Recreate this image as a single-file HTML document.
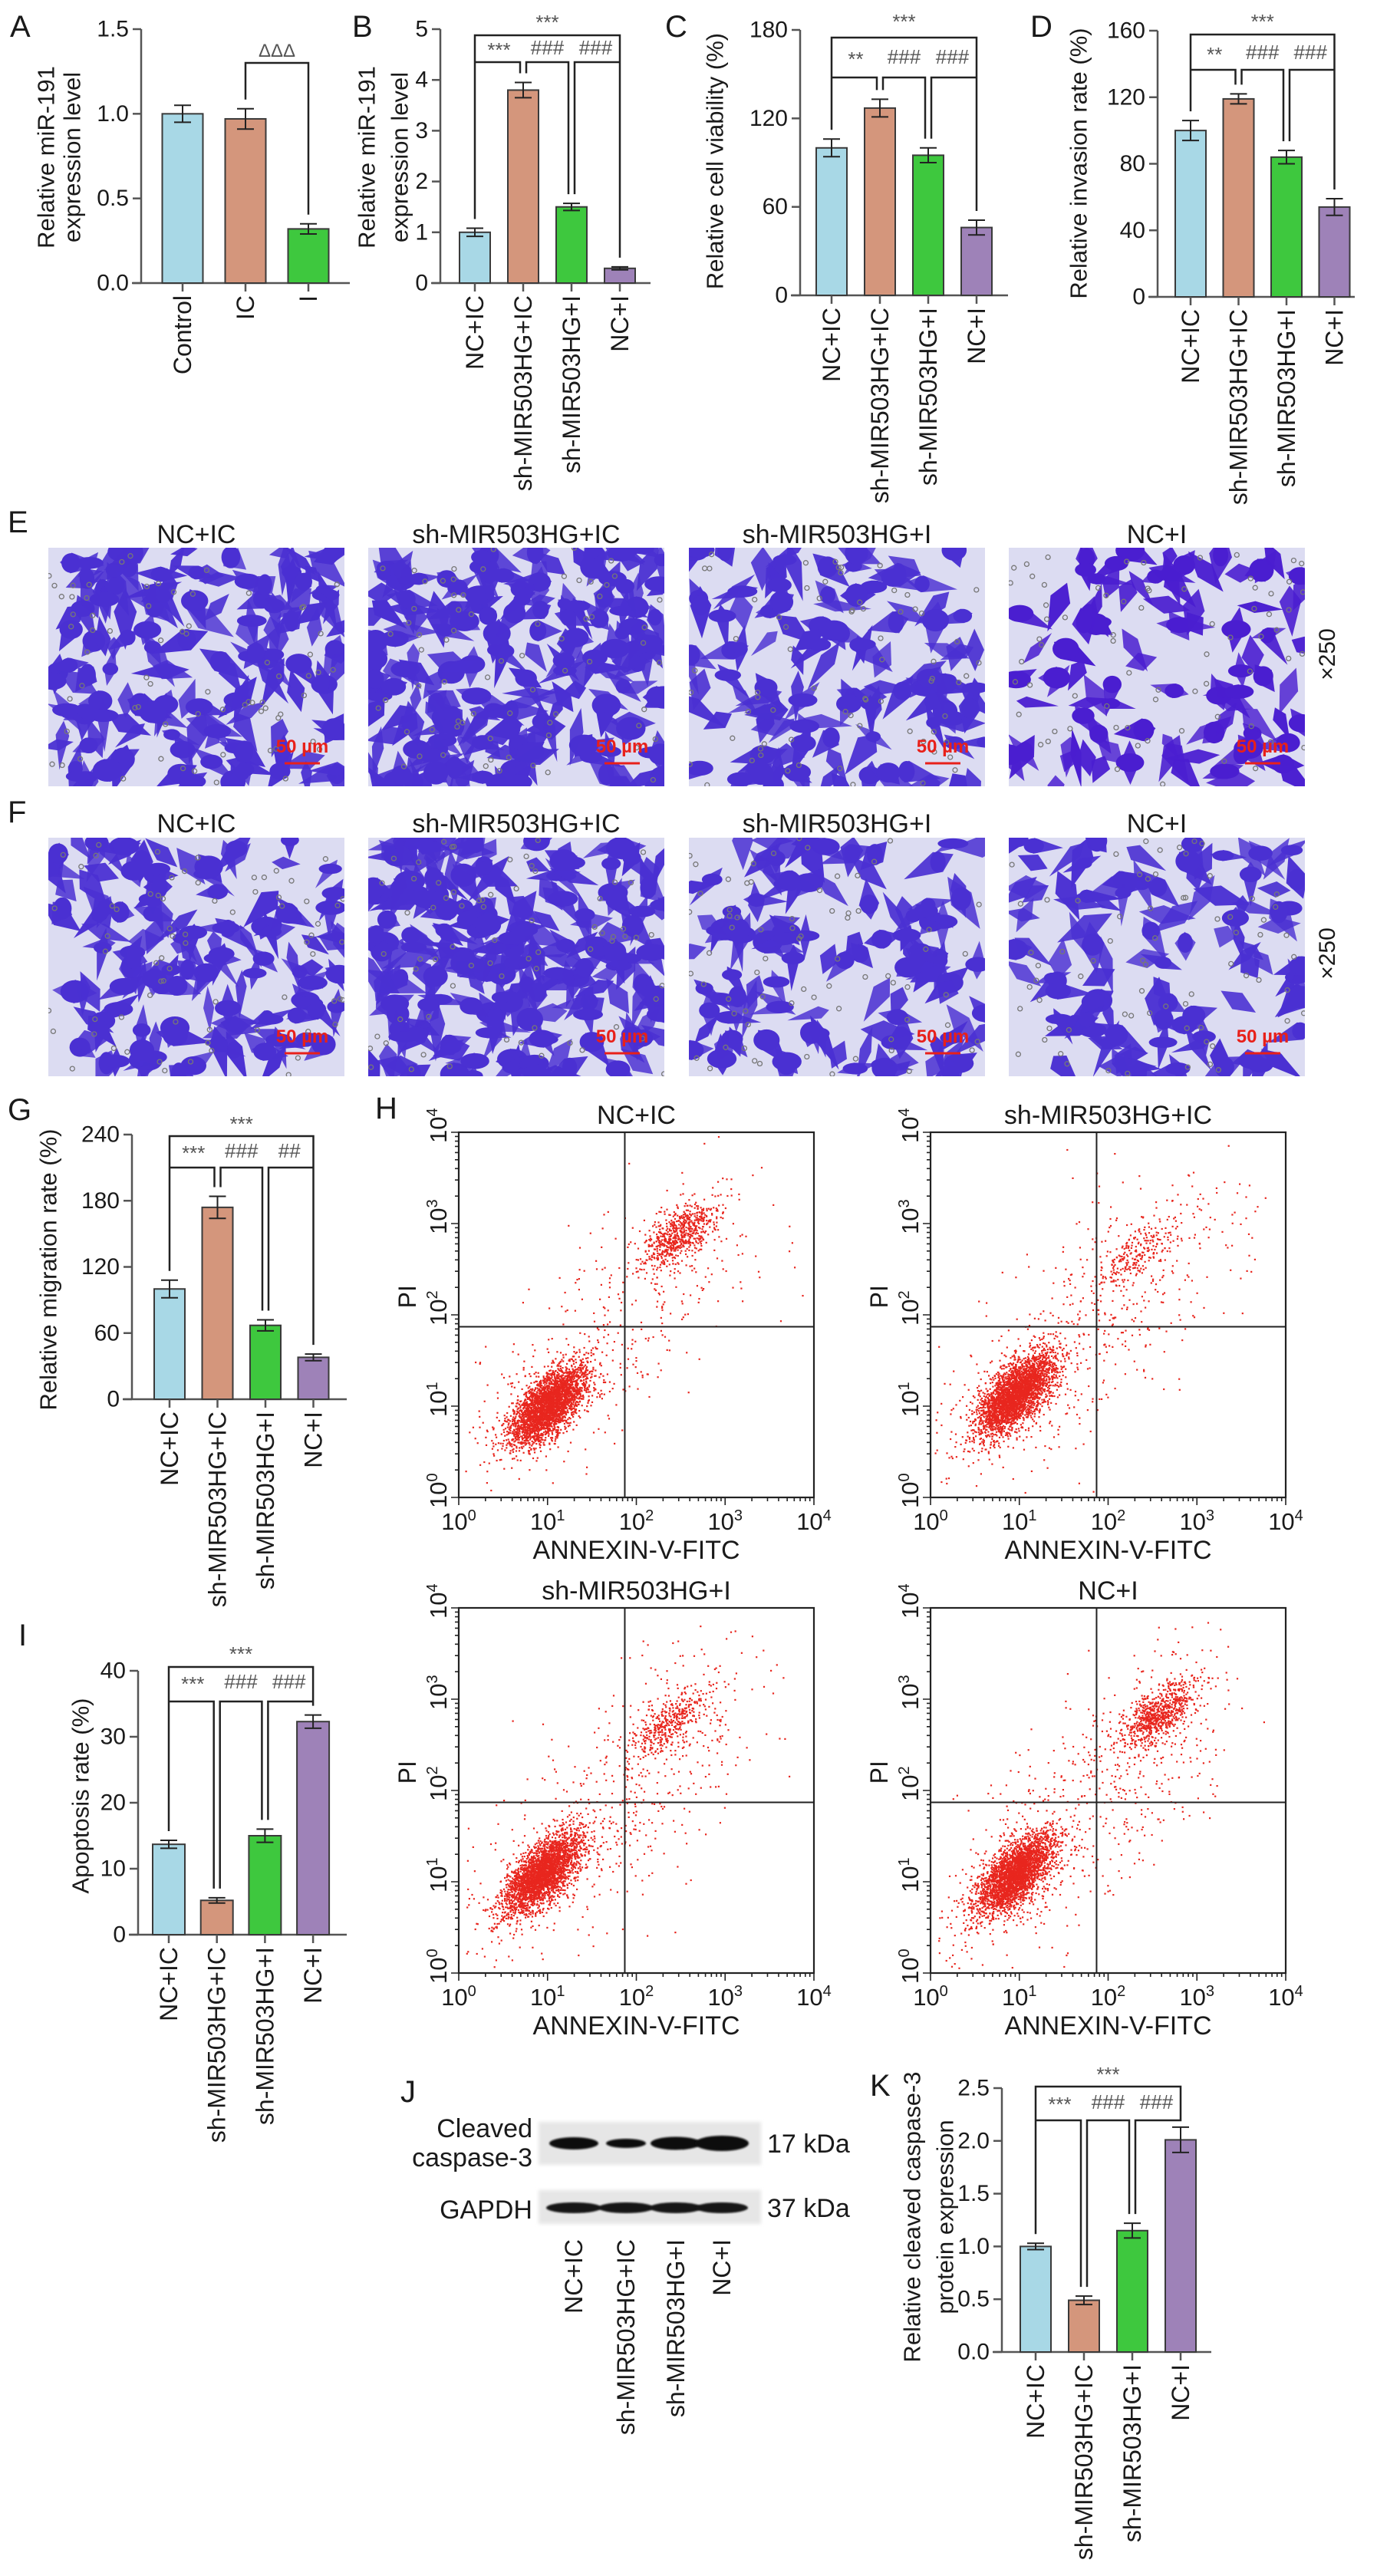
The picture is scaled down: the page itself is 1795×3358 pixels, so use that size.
<!DOCTYPE html>
<html><head><meta charset="utf-8"><style>
html,body{margin:0;padding:0;background:#fff;}
svg{display:block;}
text{font-family:"Liberation Sans",Arial,sans-serif;fill:#1a1a1a;}
.n{font-family:"Liberation Sans Narrow","Liberation Sans",sans-serif;}
</style></head><body>
<svg id="fig" width="1795" height="3358" viewBox="0 0 1795 3358" xmlns="http://www.w3.org/2000/svg">
<defs><filter id="blur2"><feGaussianBlur stdDeviation="2.5"/></filter><filter id="blur1"><feGaussianBlur stdDeviation="1"/></filter></defs>
</svg>
<script>
// ---------- data ----------
const aCats=["Control","IC","I"];
const aVals=[1.0,0.97,0.32];
const aErrs=[0.05,0.06,0.03];
const aTicks=[0,0.5,1.0,1.5];
const aTickLabels=["0.0","0.5","1.0","1.5"];
const grpCats=["NC+IC","sh-MIR503HG+IC","sh-MIR503HG+I","NC+I"];
const bVals=[1.0,3.8,1.5,0.29];
const bErrs=[0.08,0.15,0.07,0.03];
const bTicks=[0,1,2,3,4,5];
const bTickLabels=["0","1","2","3","4","5"];
const bSig=["***","###","###"];
const cVals=[100,127,95,46];
const cErrs=[6,6,5,5];
const cTicks=[0,60,120,180];
const cTickLabels=["0","60","120","180"];
const cSig=["**","###","###"];
const dVals=[100,119,84,54];
const dErrs=[6,3,4,5];
const dTicks=[0,40,80,120,160];
const dTickLabels=["0","40","80","120","160"];
const dSig=["**","###","###"];
const gVals=[100,174,67,38];
const gErrs=[8,10,5,3];
const gTicks=[0,60,120,180,240];
const gTickLabels=["0","60","120","180","240"];
const gSig=["***","###","##"];
const iVals=[13.7,5.2,15.0,32.3];
const iErrs=[0.6,0.4,1.0,1.0];
const iTicks=[0,10,20,30,40];
const iTickLabels=["0","10","20","30","40"];
const iSig=["***","###","###"];
const kVals=[1.0,0.49,1.15,2.01];
const kErrs=[0.03,0.04,0.07,0.12];
const kTicks=[0,0.5,1.0,1.5,2.0,2.5];
const kTickLabels=["0.0","0.5","1.0","1.5","2.0","2.5"];
const kSig=["***","###","###"];
// flow cytometry cluster summaries (log10 units)
const hTitles=["NC+IC","sh-MIR503HG+IC","sh-MIR503HG+I","NC+I"];
const hLiveX=[1.0,0.96,0.95,0.96];
const hLiveY=[1.0,1.12,1.1,1.08];
const hLiveN=[3000,3000,2900,2800];
const hLateX=[2.5,2.3,2.35,2.58];
const hLateY=[2.88,2.65,2.72,2.84];
const hLateN=[650,200,380,750];
const hScatN=[450,650,650,700];
const hQuadX=[1.87,1.87,1.87,1.87];
const hQuadY=[1.87,1.87,1.87,1.87];

const NS="http://www.w3.org/2000/svg";
const svg=document.getElementById("fig");
const COLORS=["#a8d8e6","#d4967c","#3ec83e","#9e82b8"];
function mk(tag,parent,attrs){const e=document.createElementNS(NS,tag);for(const k in attrs)e.setAttribute(k,attrs[k]);parent.appendChild(e);return e;}
function txt(parent,x,y,s,size,anchor,cls,rot){const t=mk("text",parent,{x:x,y:y,"font-size":size,"text-anchor":anchor||"start"});if(cls)t.setAttribute("class",cls);if(rot)t.setAttribute("transform","rotate("+rot+" "+x+" "+y+")");t.textContent=s;return t;}

function letter(s,x,y){const t=txt(svg,x,y,s,40,"start","n");

}
[["A",13,48],["B",459,48],["C",867,48],["D",1343,48],["E",10,694],["F",10,1072],["G",10,1460],["H",489,1458],["I",24,2145],["J",522,2740],["K",1134,2732]].forEach(a=>letter(a[0],a[1],a[2]));

function barChart(id,cfg,cats,vals,errs,ticks,tickLabels,sig){
 const g=mk("g",svg,{});
 
 
 const ys=v=>cfg.y0-(v/cfg.max)*(cfg.y0-cfg.yTop);
 const xs=i=>cfg.x1+i*cfg.step;
 const ya=mk("line",g,{x1:cfg.ax,y1:cfg.yTop,x2:cfg.ax,y2:cfg.y0,stroke:"#555","stroke-width":2.5});
 
 
 const xa=mk("line",g,{x1:cfg.ax-12,y1:cfg.y0,x2:cfg.xEnd,y2:cfg.y0,stroke:"#555","stroke-width":2.5});
 
 
 ticks.forEach((t,j)=>{
  mk("line",g,{x1:cfg.ax-11,y1:ys(t),x2:cfg.ax,y2:ys(t),stroke:"#555","stroke-width":2.5});
  const l=txt(g,cfg.ax-16,ys(t),tickLabels[j],cfg.tickSize||30,"end",cfg.tickCls===undefined?"n":cfg.tickCls);
  l.setAttribute("dominant-baseline","central");
  
  
 });
 vals.forEach((v,i)=>{
  const r=mk("rect",g,{x:xs(i)-cfg.w/2,y:ys(v),width:cfg.w,height:cfg.y0-ys(v),fill:COLORS[i],stroke:"#3a3a3a","stroke-width":2});
  
  
  const e=mk("path",g,{d:"M"+xs(i)+","+ys(v-errs[i])+"V"+ys(v+errs[i])+"M"+(xs(i)-11)+","+ys(v-errs[i])+"h22M"+(xs(i)-11)+","+ys(v+errs[i])+"h22",stroke:"#222","stroke-width":2,fill:"none"});
  
  
  mk("line",g,{x1:xs(i),y1:cfg.y0,x2:xs(i),y2:cfg.y0+11,stroke:"#555","stroke-width":2.5});
  const c=txt(g,xs(i),cfg.y0+16,cats[i],32,"end","",-90);
  c.setAttribute("dominant-baseline","central");
  
  
 });
 cfg.titles.forEach((s,j)=>{
  const t=txt(g,cfg.tx[j],cfg.tcy,s,cfg.tsize||31,"middle","",-90);
  t.setAttribute("dominant-baseline","central");
  
  
 });
 const leg=i=>ys(vals[i]+errs[i])-12;
 if(sig){
  const x=[0,1,2,3].map(xs);
  const p=mk("path",g,{d:"M"+x[0]+","+cfg.low+"V"+cfg.top+"H"+x[3]+"V"+cfg.low+
   "M"+x[0]+","+leg(0)+"V"+cfg.low+"H"+(x[1]-4)+"V"+leg(1)+
   "M"+(x[1]+4)+","+leg(1)+"V"+cfg.low+"H"+(x[2]-4)+"V"+leg(2)+
   "M"+(x[2]+4)+","+leg(2)+"V"+cfg.low+"H"+x[3]+"V"+leg(3),stroke:"#222","stroke-width":2.5,fill:"none"});
  
  
  const st=txt(g,(x[0]+x[3])/2,cfg.star+8,"***",26,"middle","n");
  st.style.fill="#555";
  
  
  const mids=[(x[0]+x[1])/2,(x[1]+x[2])/2,(x[2]+x[3])/2];
  sig.forEach((s,j)=>{
   const l=txt(g,mids[j],cfg.lab+(s[0]==="*"?12:9),s,26,"middle","n");
   l.style.fill="#555";
   
   
  });
 }
 return {xs,ys,leg};
}

const A=barChart("a",{ax:184,yTop:38,y0:369,max:1.5,x1:238,step:82,w:53,xEnd:456,titles:["Relative miR-191","expression  level"],tx:[60,94],tcy:205},aCats,aVals,aErrs,aTicks,aTickLabels,null);
(function(){const x1=A.xs(1),x2=A.xs(2);
 const p=mk("path",svg,{d:"M"+x1+","+A.leg(1)+"V82H"+x2+"V"+A.leg(2),stroke:"#222","stroke-width":2.5,fill:"none"});
 
 
 const t=txt(svg,(x1+x2)/2,74,"ΔΔΔ",24,"middle","n");
 t.style.fill="#555";
 
 })();
barChart("b",{ax:574,yTop:38,y0:369,max:5,x1:619,step:63,w:40,xEnd:848,titles:["Relative miR-191","expression  level"],tx:[478,521],tcy:205,star:30,top:46,lab:62,low:81},grpCats,bVals,bErrs,bTicks,bTickLabels,bSig);
barChart("c",{ax:1043,yTop:39,y0:385,max:180,x1:1084,step:63,w:40,xEnd:1314,titles:["Relative cell viability (%)"],tx:[932],tcy:210,star:29,top:49,lab:74,low:101},grpCats,cVals,cErrs,cTicks,cTickLabels,cSig);
barChart("d",{ax:1509,yTop:40,y0:387,max:160,x1:1552,step:62.5,w:40,xEnd:1766,titles:["Relative invasion rate (%)"],tx:[1406],tcy:213,star:29,top:45,lab:68,low:91},grpCats,dVals,dErrs,dTicks,dTickLabels,dSig);
barChart("g",{ax:172,yTop:1479,y0:1824,max:240,x1:221,step:62.5,w:40,xEnd:452,titles:["Relative migration rate (%)"],tx:[63],tcy:1655,star:1466,top:1481,lab:1500,low:1522},grpCats,gVals,gErrs,gTicks,gTickLabels,gSig);
barChart("i",{ax:180,yTop:2178,y0:2522,max:40,x1:220,step:62.7,w:42,xEnd:452,titles:["Apoptosis rate (%)"],tx:[105],tcy:2341,star:2157,top:2173,lab:2192,low:2218,tickCls:""},grpCats,iVals,iErrs,iTicks,iTickLabels,iSig);
barChart("k",{ax:1306,yTop:2722,y0:3066,max:2.5,x1:1350,step:63,w:40,xEnd:1579,titles:["Relative cleaved caspase-3","protein expression"],tx:[1189,1232],tcy:2890,star:2705,top:2720,lab:2740,low:2764},grpCats,kVals,kErrs,kTicks,kTickLabels,kSig);

// ---------- microscopy photos ----------
function rng(seed){let s=seed>>>0;return()=>(s=(Math.imul(s,1664525)+1013904223)>>>0)/4294967296;}
const photoX=[63,480,898,1315];
const photoDensity=[[150,210,125,95],[140,230,120,110]];
const rowY=[714,1092];
const rowTitleY=[708,1085];
const rowName=["invasion","migration"];
rowY.forEach((py,r)=>{
 photoX.forEach((px,c)=>{
  const W=386,H=311,rnd=rng(1000+r*10+c);
  const g=mk("g",svg,{});
  
  
  const cid="clip"+r+c;
  const cp=mk("clipPath",g,{id:cid});mk("rect",cp,{x:px,y:py,width:W,height:H});
  g.setAttribute("clip-path","url(#"+cid+")");
  mk("rect",g,{x:px,y:py,width:W,height:H,fill:"#dcdcf2"});
  const n=photoDensity[r][c];
  const cg=mk("g",g,{fill:c==3&&r==0?"#4a1ed0":"#4a30d2"});
  for(let k=0;k<n;k++){
   const cx=px+rnd()*W,cy=py+rnd()*H,a=rnd()*180,rx=9+rnd()*11,ry=7+rnd()*9,L1=18+rnd()*32,L2=10+rnd()*24;
   mk("polygon",cg,{points:L1+",0 0,"+ry+" "+(-L2)+",0 0,"+(-ry),transform:"translate("+cx.toFixed(1)+","+cy.toFixed(1)+") rotate("+(a|0)+")",opacity:(0.8+rnd()*0.2).toFixed(2)});
   if(rnd()<0.55)mk("ellipse",cg,{cx:cx.toFixed(1),cy:cy.toFixed(1),rx:rx.toFixed(1),ry:(ry*0.95).toFixed(1)});
  }
  const pg=mk("g",g,{fill:"none",stroke:"#777","stroke-width":1.3});
  for(let k=0;k<70;k++)mk("circle",pg,{cx:(px+rnd()*W).toFixed(1),cy:(py+rnd()*H).toFixed(1),r:3});
  const sb=txt(g,px+W-55,py+H-44,"50 µm",24,"middle","n");
  sb.style.fill="#e8201a";sb.style.fontWeight="bold";
  
  
  const sl=mk("line",g,{x1:px+W-78,y1:py+H-30,x2:px+W-32,y2:py+H-30,stroke:"#e8201a","stroke-width":3});
  
  
  const t=txt(svg,px+W/2,rowTitleY[r],grpCats[c],34,"middle","n");
  
  
 });
 const m=txt(svg,1740,[853,1243][r],"×250",30,"middle","",-90);
 
 
});

// ---------- flow cytometry ----------
const plotL=[598,1213,598,1213],plotT=[1476,1476,2096,2096],PW=463,PH=476;
hTitles.forEach((title,p)=>{
 const L=plotL[p],T=plotT[p],B=T+PH,R=L+PW;
 const sx=v=>L+v/4*PW, sy=v=>B-v/4*PH;
 const g=mk("g",svg,{});
 
 
 const rnd=rng(77+p*31);
 const gauss=()=>{let u=rnd()||1e-6,v=rnd();return Math.sqrt(-2*Math.log(u))*Math.cos(2*Math.PI*v);};
 const dg=mk("g",g,{fill:"#e8261e"});
 
 
 const dot=(x,y)=>{if(x<0.05||x>3.95||y<0.05||y>3.95)return;mk("rect",dg,{x:(sx(x)-1).toFixed(1),y:(sy(y)-1).toFixed(1),width:2.2,height:2.2});};
 for(let k=0;k<hLiveN[p];k++){const u=gauss(),v=gauss();dot(hLiveX[p]+0.2*u+0.09*v,hLiveY[p]+0.2*u-0.09*v);}
 for(let k=0;k<hLateN[p];k++){const u=gauss(),v=gauss();dot(hLateX[p]+0.19*u+0.08*v,hLateY[p]+0.16*u-0.08*v);}
 for(let k=0;k<hScatN[p];k++){const t=0.4+rnd()*2.6;dot(t+gauss()*0.45,t+0.1+gauss()*0.45);}
 const fr=mk("rect",g,{x:L,y:T,width:PW,height:PH,fill:"none",stroke:"#222","stroke-width":2.2});
 
 
 const q=mk("path",g,{d:"M"+sx(hQuadX[p])+","+T+"V"+B+"M"+L+","+sy(hQuadY[p])+"H"+R,stroke:"#222","stroke-width":2,fill:"none"});
 
 
 let d="";
 for(let dec=0;dec<4;dec++)for(let m=1;m<10;m++){const v=dec+Math.log10(m),len=m==1?10:5;d+="M"+sx(v)+","+B+"v"+len+"M"+L+","+sy(v)+"h-"+len;}
 d+="M"+R+","+B+"v10M"+L+","+T+"h-10";
 mk("path",g,{d:d,stroke:"#222","stroke-width":1.6,fill:"none"});
 for(let dec=0;dec<=4;dec++){
  const xt=mk("text",g,{x:sx(dec),y:B+42,"font-size":31,"text-anchor":"middle",class:"n"});
  xt.innerHTML='10<tspan dy="-12" font-size="20">'+dec+'</tspan>';
  
  
  const yt=mk("text",g,{x:L-16,y:sy(dec)+14,"font-size":31,"text-anchor":"start",class:"n",transform:"rotate(-90 "+(L-16)+" "+(sy(dec)+14)+")"});
  yt.innerHTML='10<tspan dy="-12" font-size="20">'+dec+'</tspan>';
  
  
 }
 const xl=txt(g,(L+R)/2,B+80,"ANNEXIN-V-FITC",34,"middle","n");
 
 
 const yl=txt(g,L-56,sy(2.2),"PI",32,"middle","",-90);
 
 
 const tt=txt(g,(L+R)/2,T-11,title,34,"middle","n");
 
 
});

// ---------- western blot ----------
const lanes=[748,816,881,941];
const cleavedW=[32,26,33,35];
const cleavedH=[8,6,8.5,10];
const gapdhW=[36,36,34,34];
const gapdhH=[7,7,7,7];
(function(){
 const g=mk("g",svg,{});
 
 
 const b1=mk("rect",g,{x:702,y:2766,width:290,height:56,fill:"#e6e6e6",filter:"url(#blur2)"});
 
 
 const b2=mk("rect",g,{x:702,y:2855,width:290,height:44,fill:"#e6e6e6",filter:"url(#blur2)"});
 
 
 lanes.forEach((x,i)=>{
  const e=mk("ellipse",g,{cx:x,cy:2794,rx:cleavedW[i],ry:cleavedH[i],fill:"#111",filter:"url(#blur1)"});
  
  
  const f=mk("ellipse",g,{cx:x,cy:2878,rx:gapdhW[i],ry:gapdhH[i],fill:"#161616",filter:"url(#blur1)"});
  
  
  const l=txt(g,x,2919,grpCats[i],32,"end","",-90);
  l.setAttribute("dominant-baseline","central");
  
  
 });
 [["Cleaved",694,2786,"end"],["caspase-3",694,2824,"end"],["GAPDH",694,2892,"end"],["17 kDa",1000,2806,"start"],["37 kDa",1000,2890,"start"]].forEach(a=>{
  const t=txt(g,a[1],a[2],a[0],34,a[3],"n");
  
  
 });
})();
</script>
</body></html>
